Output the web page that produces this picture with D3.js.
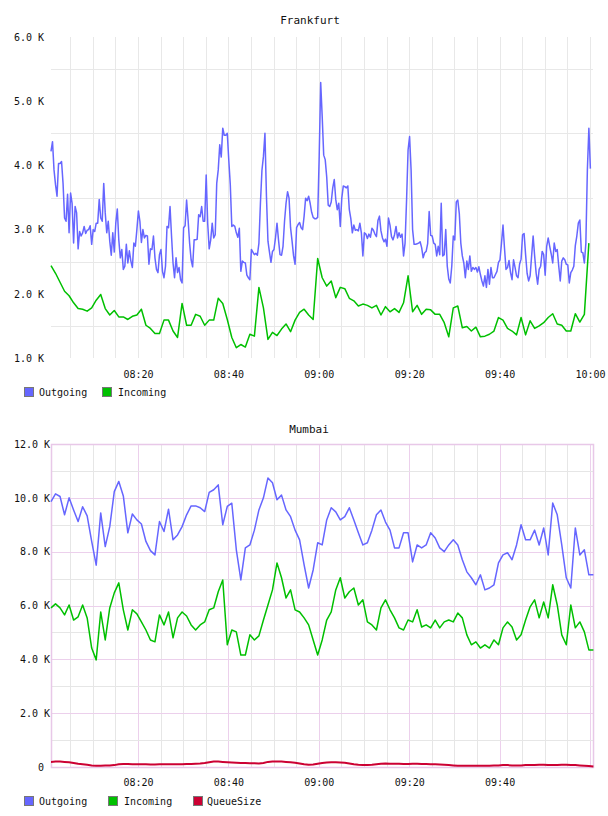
<!DOCTYPE html>
<html>
<head>
<meta charset="utf-8">
<script src="https://cdn.jsdelivr.net/npm/d3@7"></script>
<style>
  body { margin: 0; background: #fff; }
  svg text { font-family: "DejaVu Sans Mono", monospace; fill: #111; }
</style>
</head>
<body>
<div id="root"></div>
<script>
// ---- data (values in thousands) ----
const seriesNames = ["Outgoing", "Incoming", "QueueSize"];
const seriesColors = { Outgoing: "#6666ff", Incoming: "#00c000", QueueSize: "#cc0033" };

const timeLabels = ["08:20", "08:40", "09:00", "09:20", "09:40", "10:00"];
const firstSample = "08:00:45";

// Frankfurt, outgoing sampled every 20 s
const fraOutgoing = [
  4.22,4.37,3.93,3.7,3.52,4.03,4.03,4.06,3.72,3.18,
  3.13,3.55,2.95,3.57,3.41,2.79,3.36,3.26,2.7,2.97,
  2.9,2.95,3.05,2.94,2.99,3.0,3.06,2.77,3.0,2.97,
  3.1,3.1,3.47,3.18,3.13,3.72,3.26,2.95,3.13,2.82,
  2.6,2.95,2.65,3.1,3.32,2.84,2.56,2.69,2.38,2.43,
  2.77,2.48,2.67,2.51,2.41,2.79,2.74,3.0,3.29,3.13,
  2.8,3.0,2.87,2.91,2.9,2.46,2.7,2.69,2.9,2.56,
  2.38,2.33,2.61,2.69,2.35,2.25,2.43,3.05,3.03,3.36,
  2.9,2.48,2.25,2.56,2.33,2.41,2.22,2.17,3.03,3.06,
  3.46,3.15,2.79,2.53,2.42,2.84,2.84,2.85,3.23,3.2,
  3.36,3.13,3.13,3.85,3.1,2.7,2.84,3.1,2.87,2.92,
  3.72,3.93,4.32,4.13,4.58,4.47,4.47,4.5,4.08,3.7,
  3.05,3.07,3.05,2.95,2.88,3.02,2.35,2.51,2.49,2.48,
  2.29,2.25,2.22,2.69,2.65,2.61,2.63,2.6,2.79,3.41,
  3.92,4.14,4.5,3.52,2.82,2.65,2.49,2.66,2.69,2.87,
  3.1,2.84,2.61,2.6,2.74,3.13,3.41,3.59,3.49,3.03,
  2.82,2.59,2.46,3.03,3.08,3.11,3.03,3.0,3.21,3.49,
  3.45,3.52,3.41,3.27,3.19,3.17,3.17,3.19,4.14,5.29,
  4.76,4.16,4.09,3.82,3.38,3.36,3.43,3.65,3.78,3.47,
  3.31,3.41,3.05,3.49,3.68,3.67,3.65,3.68,3.31,3.17,
  2.95,3.07,2.99,3.0,2.98,3.1,2.95,2.59,2.95,2.93,
  2.86,2.93,2.88,3.02,2.99,2.93,2.89,3.14,3.21,2.98,
  2.87,2.81,2.85,2.74,3.18,3.07,2.89,2.84,2.92,3.05,
  2.87,2.95,2.88,2.93,2.59,
  2.79,3.46,4.24,4.45,3.93,3.0,2.77,2.77,2.78,2.79,
  2.81,2.72,2.56,2.64,2.66,2.78,3.28,2.91,2.9,2.79,
  2.77,2.59,2.74,2.61,3.41,2.59,2.61,3.0,2.43,2.23,
  2.17,2.43,2.9,2.84,3.43,3.46,3.25,2.79,2.59,2.48,
  2.25,2.51,2.38,2.59,2.35,2.41,2.38,2.41,2.34,2.42,
  2.3,2.2,2.12,2.28,2.1,2.38,2.15,2.41,2.25,2.25,
  2.3,2.35,2.49,2.53,2.79,3.07,2.71,2.38,2.41,2.52,
  2.33,2.22,2.53,2.41,2.28,2.25,2.46,2.54,2.92,2.94,
  2.61,2.32,2.2,2.28,2.59,2.9,2.59,2.32,2.15,2.38,
  2.43,2.66,2.61,2.29,2.74,2.87,2.74,2.62,2.48,2.79,
  2.66,2.69,2.43,2.2,2.51,2.56,2.53,2.46,2.45,2.17,
  2.33,2.37,2.43,2.75,2.9,3.1,3.15,2.65,2.64,2.48,
  2.79,3.93,4.58,3.95
];

// Frankfurt, incoming sampled every minute
const fraIncoming = [
  2.44,2.32,2.18,2.04,1.97,1.86,1.77,1.76,1.73,1.78,
  1.9,1.99,1.77,1.67,1.74,1.64,1.64,1.6,1.65,1.67,
  1.76,1.51,1.46,1.38,1.38,1.59,1.59,1.42,1.32,1.85,
  1.51,1.51,1.68,1.65,1.51,1.59,1.59,1.93,1.85,1.6,
  1.32,1.16,1.21,1.17,1.37,1.34,2.1,1.78,1.29,1.4,
  1.35,1.45,1.53,1.41,1.59,1.71,1.76,1.67,1.6,2.55,
  2.25,2.12,2.2,1.94,2.1,2.08,1.93,1.89,1.81,1.84,
  1.82,1.78,1.82,1.67,1.8,1.72,1.77,1.71,1.86,2.28,
  1.72,1.82,1.68,1.76,1.75,1.68,1.68,1.55,1.33,1.78,
  1.81,1.47,1.49,1.42,1.48,1.33,1.34,1.37,1.42,1.63,
  1.59,1.46,1.42,1.36,1.63,1.36,1.58,1.46,1.5,1.55,
  1.63,1.69,1.53,1.51,1.42,1.42,1.69,1.56,1.68,2.79
];

// Mumbai, all sampled every minute
const mumOutgoing = [
  9.86,10.15,10.05,9.37,10.0,9.55,9.12,9.67,9.33,8.38,
  7.5,9.44,8.19,8.93,10.23,10.61,10.07,8.7,9.4,9.18,
  9.03,8.38,8.04,7.88,9.12,8.75,9.58,8.44,8.62,8.93,
  9.37,9.7,9.7,9.63,9.49,10.2,10.3,10.48,9.0,9.68,
  9.8,8.07,
  6.95,8.14,8.25,8.8,9.55,10.0,10.74,10.56,9.93,10.1,
  9.55,9.3,8.8,8.44,7.51,6.65,7.32,8.33,8.25,9.18,
  9.63,9.48,9.18,9.3,9.63,9.18,8.7,8.25,8.33,8.8,
  9.37,9.55,9.1,8.8,8.14,8.14,8.7,8.7,7.62,8.25,
  8.14,8.25,8.7,8.51,8.14,8.0,8.25,8.44,8.25,7.7,
  7.25,7.03,6.77,7.14,6.58,6.65,6.77,7.58,7.88,7.96,
  7.7,8.25,9.0,8.44,8.44,8.8,8.25,8.88,7.88,9.81,
  9.37,8.25,7.03,6.65,8.88,7.88,8.07,7.14,7.14
];

const mumIncoming = [
  5.91,6.06,5.91,5.65,6.02,5.46,5.58,6.02,5.54,4.42,
  3.98,5.76,4.72,5.91,6.47,6.84,5.84,5.09,5.84,5.69,
  5.39,5.09,4.72,4.65,5.65,5.28,5.76,4.8,5.54,5.76,
  5.61,5.28,5.09,5.28,5.39,5.84,5.91,6.51,6.95,4.54,
  5.09,5.02,4.16,4.16,4.91,4.72,4.87,5.46,6.02,6.58,
  7.58,7.03,6.28,6.58,5.84,5.76,5.54,5.28,4.72,4.16,
  4.72,5.46,5.76,6.58,7.03,6.28,6.51,6.65,6.02,6.21,
  5.39,5.28,5.09,5.91,6.21,5.84,5.54,5.17,5.09,5.46,
  5.39,5.84,5.2,5.28,5.17,5.46,5.17,5.39,5.46,5.39,
  5.72,5.54,4.91,4.54,4.65,4.42,4.54,4.42,4.72,4.54,
  5.17,5.39,5.2,4.72,4.91,5.46,5.95,6.21,5.54,6.13,
  5.54,6.77,6.02,4.91,4.54,6.02,5.17,5.39,5.02,4.35,
  4.35
];

const mumQueue = [
  0.19,0.2,0.2,0.19,0.18,0.15,0.12,0.1,0.08,0.06,
  0.05,0.05,0.06,0.06,0.07,0.1,0.11,0.11,0.1,0.1,
  0.1,0.1,0.09,0.09,0.1,0.1,0.1,0.1,0.1,0.1,
  0.11,0.11,0.12,0.13,0.15,0.18,0.2,0.2,0.19,0.18,
  0.17,0.16,0.15,0.15,0.14,0.14,0.13,0.15,0.19,0.2,
  0.2,0.2,0.19,0.18,0.16,0.13,0.1,0.08,0.09,0.12,
  0.15,0.17,0.18,0.18,0.17,0.16,0.13,0.1,0.08,0.07,
  0.07,0.08,0.1,0.12,0.13,0.12,0.12,0.12,0.11,0.11,
  0.12,0.12,0.11,0.11,0.1,0.1,0.09,0.08,0.07,0.06,
  0.05,0.05,0.05,0.05,0.05,0.05,0.05,0.05,0.06,0.06,
  0.07,0.07,0.06,0.06,0.06,0.07,0.07,0.07,0.08,0.08,
  0.07,0.07,0.07,0.08,0.08,0.07,0.07,0.06,0.05,0.04,
  0.02
];

// ---- drawing ----
const W = 608, H = 816;
const parseClock = d3.timeParse("%Y-%m-%d %H:%M:%S");
const t0 = parseClock("2024-01-01 " + firstSample);
const tEnd = parseClock("2024-01-01 10:00:53");
const labelDates = timeLabels.map(s => parseClock("2024-01-01 " + s + ":00"));
const fiveMin = d3.timeMinute.every(5).range(parseClock("2024-01-01 08:05:00"), parseClock("2024-01-01 10:00:30"));

function withTimes(values, stepSec) {
  return values.map((v, i) => ({ t: new Date(t0.getTime() + i * stepSec * 1000), v: v }));
}

const svg = d3.select("#root").append("svg")
  .attr("width", W)
  .attr("height", H);

const x = d3.scaleTime().domain([t0, tEnd]).range([51, 594]);

function drawLegend(names, y, xs) {
  const lg = svg.append("g");
  names.forEach((name, i) => {
    lg.append("rect")
      .attr("x", xs[i][0] + 0.5).attr("y", y - 4.5)
      .attr("width", 9).attr("height", 9)
      .attr("fill", seriesColors[name])
      .attr("stroke", "#777");
    lg.append("text")
      .attr("x", xs[i][1]).attr("y", y)
      .attr("dy", "0.35em")
      .style("font-size", "10px")
      .text(name);
  });
}

function drawLines(y, series) {
  const line = d3.line().x(d => x(d.t)).y(d => y(d.v));
  series.forEach(s => {
    svg.append("path")
      .datum(s.data)
      .attr("fill", "none")
      .attr("stroke", seriesColors[s.name])
      .attr("stroke-width", s.width || 1.5)
      .attr("stroke-linejoin", "round")
      .attr("d", line);
  });
}

function styleAxis(g) {
  g.select(".domain").remove();
  g.attr("font-family", "DejaVu Sans Mono").attr("font-size", 10);
  g.selectAll("text").attr("fill", "#111");
}

// ---------- Frankfurt ----------
{
  const top = 37, bottom = 358;
  const y = d3.scaleLinear().domain([1, 6]).range([bottom, top]);
  const grid = svg.append("g").attr("stroke", "#e8e8e8").attr("stroke-width", 1);

  grid.selectAll("line.v").data(fiveMin).enter().append("line")
    .attr("x1", d => Math.round(x(d)) + 0.5).attr("x2", d => Math.round(x(d)) + 0.5)
    .attr("y1", top).attr("y2", bottom);
  grid.selectAll("line.h").data([1.5, 2.5, 3.5, 4.5, 5.5]).enter().append("line")
    .attr("x1", 51).attr("x2", 593)
    .attr("y1", d => Math.round(y(d)) + 0.5).attr("y2", d => Math.round(y(d)) + 0.5);

  svg.append("g").attr("transform", "translate(51,0)")
    .call(d3.axisLeft(y).tickValues([1, 2, 3, 4, 5, 6]).tickSize(0).tickPadding(7)
      .tickFormat(d => d.toFixed(1) + " K"))
    .call(styleAxis);

  svg.append("g").attr("transform", `translate(0,${bottom})`)
    .call(d3.axisBottom(x).tickValues(labelDates).tickSize(0).tickFormat(d3.timeFormat("%H:%M")))
    .call(styleAxis)
    .call(g => g.selectAll("text").attr("y", 16).attr("dy", "0.35em"));

  drawLines(y, [
    { name: "Incoming", data: withTimes(fraIncoming, 60) },
    { name: "Outgoing", data: withTimes(fraOutgoing, 20) }
  ]);

  svg.append("text").attr("x", 310).attr("y", 20).attr("dy", "0.35em")
    .attr("text-anchor", "middle").style("font-size", "11px").text("Frankfurt");

  drawLegend(["Outgoing", "Incoming"], 392, [[24, 39], [102, 118]]);
}

// ---------- Mumbai ----------
{
  const top = 444, bottom = 767;
  const y = d3.scaleLinear().domain([0, 12]).range([bottom, top]);
  const pink = "#ecd0ec", gray = "#e6e6e6";
  const grid = svg.append("g").attr("stroke-width", 1);

  grid.selectAll("line.v").data(fiveMin).enter().append("line")
    .attr("x1", d => Math.round(x(d)) + 0.5).attr("x2", d => Math.round(x(d)) + 0.5)
    .attr("y1", top).attr("y2", bottom)
    .attr("stroke", d => d.getMinutes() % 20 === 0 ? pink : gray);
  grid.selectAll("line.h").data(d3.range(1, 12)).enter().append("line")
    .attr("x1", 51).attr("x2", 594)
    .attr("y1", d => Math.round(y(d)) + 0.5).attr("y2", d => Math.round(y(d)) + 0.5)
    .attr("stroke", d => d % 2 === 0 ? pink : gray);
  svg.append("rect")
    .attr("x", 51.5).attr("y", top + 0.5)
    .attr("width", 593 - 51).attr("height", bottom - top)
    .attr("fill", "none").attr("stroke", "#e8c8e8").attr("stroke-width", 1.5);

  svg.append("g").attr("transform", "translate(51,0)")
    .call(d3.axisLeft(y).tickValues([0, 2, 4, 6, 8, 10, 12]).tickSize(0).tickPadding(1)
      .tickFormat(d => d === 0 ? "0" : d.toFixed(1) + " K"))
    .call(styleAxis)
    .call(g => g.selectAll("text").filter(d => d === 0).attr("x", -7));

  svg.append("g").attr("transform", `translate(0,${bottom})`)
    .call(d3.axisBottom(x).tickValues(labelDates.slice(0, 5)).tickSize(0).tickFormat(d3.timeFormat("%H:%M")))
    .call(styleAxis)
    .call(g => g.selectAll("text").attr("y", 15).attr("dy", "0.35em"));

  drawLines(y, [
    { name: "QueueSize", data: withTimes(mumQueue, 60), width: 2 },
    { name: "Incoming", data: withTimes(mumIncoming, 60) },
    { name: "Outgoing", data: withTimes(mumOutgoing, 60) }
  ]);

  svg.append("text").attr("x", 309).attr("y", 429).attr("dy", "0.35em")
    .attr("text-anchor", "middle").style("font-size", "11px").text("Mumbai");

  drawLegend(["Outgoing", "Incoming", "QueueSize"], 801, [[24, 39], [108, 124], [193, 207]]);
}
</script>
</body>
</html>
